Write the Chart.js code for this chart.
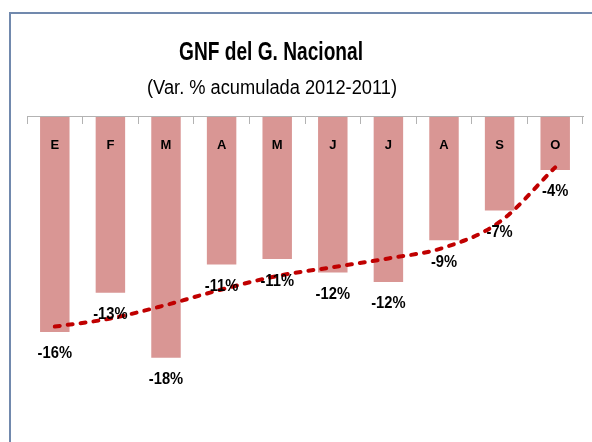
<!DOCTYPE html>
<html>
<head>
<meta charset="utf-8">
<script src="https://cdn.jsdelivr.net/npm/chart.js@4/dist/chart.umd.min.js"></script>
<style>
  body { margin: 0; background: #fff; }
  canvas { display: block; }
</style>
</head>
<body>
<canvas id="gnf-chart" width="592" height="442"></canvas>
<script>
const months = ['E', 'F', 'M', 'A', 'M', 'J', 'J', 'A', 'S', 'O'];
const varAcum = [-16.0, -13.1, -17.9, -11.0, -10.6, -11.6, -12.3, -9.2, -7.0, -4.0];
const trend = [-15.6, -15.0, -14.0, -12.85, -11.85, -11.2, -10.55, -9.75, -7.85, -3.8];

const titleText = 'GNF del G. Nacional';
const subtitleText = '(Var. % acumulada 2012-2011)';
const sans = "'Liberation Sans', Arial, sans-serif";

// frame + headings, drawn on the canvas before the chart
const framePlugin = {
    id: 'frame',
    beforeDraw(c) {
        const ctx = c.ctx;
        ctx.save();
        ctx.strokeStyle = '#7189ad';
        ctx.lineWidth = 2;
        ctx.beginPath();
        ctx.moveTo(10, 442);
        ctx.lineTo(10, 13);
        ctx.lineTo(592, 13);
        ctx.stroke();

        ctx.fillStyle = '#000';
        ctx.textAlign = 'center';
        ctx.textBaseline = 'alphabetic';
        ctx.font = 'bold 25px ' + sans;
        ctx.fillText(titleText, 271, 60, 184);   // squeezed, the original font is narrow
        ctx.font = '20px ' + sans;
        ctx.fillText(subtitleText, 272, 94, 250);
        ctx.restore();
    }
};

// value labels under each bar end
const valueLabels = {
    id: 'valueLabels',
    afterDatasetsDraw(c) {
        const ctx = c.ctx;
        const meta = c.getDatasetMeta(0);
        ctx.save();
        ctx.fillStyle = '#000';
        ctx.font = 'bold 16px ' + sans;
        ctx.textAlign = 'center';
        ctx.textBaseline = 'middle';
        meta.data.forEach((bar, i) => {
            const txt = Math.round(varAcum[i]) + '%';
            const w = ctx.measureText(txt).width * 0.92;
            ctx.fillText(txt, bar.x, bar.y + 22, w);
        });
        ctx.restore();
    }
};

new Chart(document.getElementById('gnf-chart'), {
    data: {
        labels: months,
        datasets: [{
            type: 'bar',
            data: varAcum,
            backgroundColor: '#d99694',
            barPercentage: 0.53,
            categoryPercentage: 1,
            order: 1
        }, {
            type: 'line',
            data: trend,
            borderColor: '#c00000',
            borderWidth: 4,
            borderDash: [5, 8],
            borderCapStyle: 'round',
            cubicInterpolationMode: 'monotone',
            pointRadius: 0,
            fill: false,
            order: 0
        }]
    },
    options: {
        responsive: false,
        animation: false,
        devicePixelRatio: 1,
        layout: { padding: { left: 27, right: 9, top: 116, bottom: 56 } },
        plugins: {
            legend: { display: false },
            title: { display: false },
            tooltip: { enabled: false }
        },
        scales: {
            y: { display: false, min: -20, max: 0 },
            x: {
                position: { y: 0 },
                offset: true,
                border: { color: '#b3b3b3', width: 1, z: 1 },
                grid: {
                    offset: true,
                    drawOnChartArea: false,
                    tickLength: 7,
                    color: '#b3b3b3'
                },
                ticks: {
                    z: 1,
                    color: '#000',
                    padding: 15,
                    font: { family: sans, size: 13, weight: 'bold' }
                }
            }
        }
    },
    plugins: [framePlugin, valueLabels]
});
</script>
</body>
</html>
